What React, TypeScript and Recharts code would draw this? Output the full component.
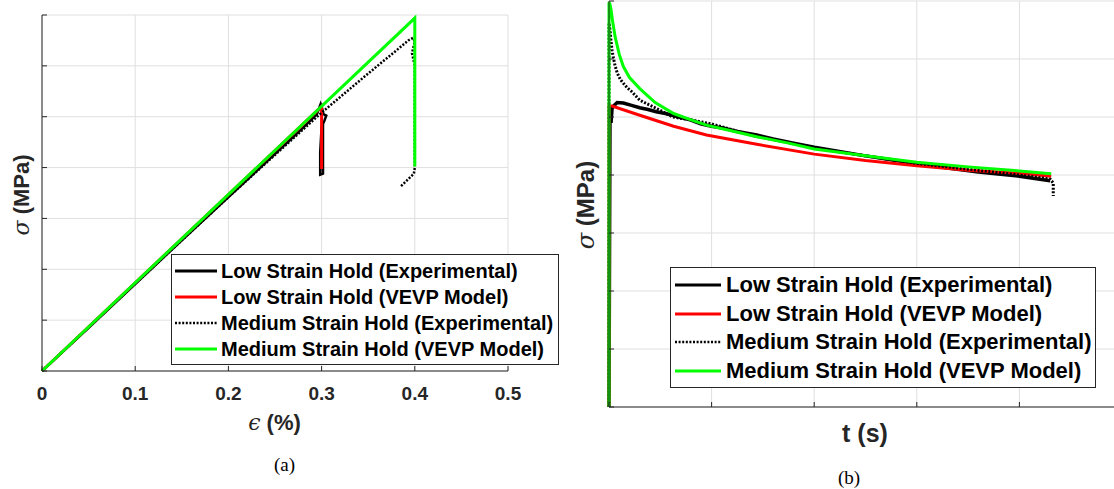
import React from 'react';
import { LineChart, Line, XAxis, YAxis, CartesianGrid, Legend } from 'recharts';

// (a) stress vs strain
const strainTicks = [0, 0.1, 0.2, 0.3, 0.4, 0.5];
const stressTicks = [0, 1, 2, 3, 4, 5, 6, 7];

const lowExpStrain = [0, 0.05, 0.1, 0.15, 0.2, 0.25, 0.28, 0.295, 0.299, 0.3, 0.302, 0.305, 0.303, 0.3, 0.2985, 0.2985, 0.3015, 0.3015];
const lowExpStress = [0, 0.85, 1.71, 2.57, 3.42, 4.27, 4.78, 5.05, 5.25, 5.2, 5.05, 5.02, 4.92, 4.8, 4.3, 3.86, 3.88, 4.9];

const lowModelStrain = [0, 0.3, 0.3];
const lowModelStress = [0, 5.2, 3.97];

const medExpStrain = [0, 0.1, 0.2, 0.3, 0.35, 0.38, 0.393, 0.398, 0.4, 0.397, 0.4, 0.4, 0.399, 0.385];
const medExpStress = [0, 1.72, 3.42, 5.08, 5.85, 6.3, 6.5, 6.55, 6.48, 6.25, 6.0, 4.0, 3.88, 3.63];

const medModelStrain = [0, 0.4, 0.4];
const medModelStress = [0, 6.94, 4.02];

// (b) stress vs time
const timeTicks = [0, 1, 2, 3, 4, 5];

const lowExpTime = [0, 0.01, 0.02, 0.03, 0.05, 0.08, 0.14, 0.22, 0.3, 0.38, 0.46, 0.55, 0.62, 0.7, 0.79, 0.9, 1.0, 1.11, 1.25, 1.44, 1.6, 1.8, 2.0, 2.2, 2.5, 2.8, 3.0, 3.3, 3.6, 4.0, 4.15, 4.3];
const lowExpRelax = [0, 5.2, 4.9, 5.15, 5.2, 5.25, 5.24, 5.2, 5.16, 5.13, 5.09, 5.06, 5.03, 4.99, 4.95, 4.88, 4.84, 4.81, 4.75, 4.69, 4.62, 4.55, 4.48, 4.42, 4.33, 4.25, 4.2, 4.12, 4.05, 3.98, 3.94, 3.9];

const lowModelTime = [0, 0, 0.03, 0.3, 0.63, 0.95, 1.44, 2.0, 2.5, 3.0, 3.5, 4.0, 4.31];
const lowModelRelax = [0, 5.19, 5.19, 5.03, 4.84, 4.69, 4.53, 4.36, 4.25, 4.16, 4.08, 4.03, 3.98];

const medExpTime = [0, 0, 0.01, 0.02, 0.03, 0.04, 0.06, 0.08, 0.11, 0.14, 0.18, 0.22, 0.3, 0.46, 0.62, 0.8, 1.0, 1.4, 2.0, 2.5, 3.0, 3.5, 4.0, 4.3, 4.33, 4.33];
const medExpRelax = [0, 6.62, 6.5, 6.3, 6.15, 6.04, 5.88, 5.76, 5.65, 5.58, 5.5, 5.44, 5.29, 5.15, 5.0, 4.95, 4.88, 4.68, 4.47, 4.33, 4.2, 4.1, 4.0, 3.93, 3.86, 3.64];

const medModelTime = [0, 0, 0.01, 0.02, 0.035, 0.06, 0.1, 0.14, 0.2, 0.3, 0.45, 0.63, 0.8, 0.95, 1.2, 1.44, 1.75, 2.0, 2.5, 3.0, 3.5, 4.0, 4.31];
const medModelRelax = [0, 6.98, 6.94, 6.85, 6.65, 6.38, 6.08, 5.87, 5.68, 5.49, 5.25, 5.06, 4.95, 4.86, 4.76, 4.66, 4.55, 4.45, 4.33, 4.22, 4.14, 4.07, 4.02];

const seriesNames = [
    'Low Strain Hold (Experimental)',
    'Low Strain Hold (VEVP Model)',
    'Medium Strain Hold (Experimental)',
    'Medium Strain Hold (VEVP Model)',
];

const zip = (xs: number[], ys: number[]) => xs.map((x, i) => ({ x, y: ys[i] }));

const FONT = '"Liberation Sans", Arial, sans-serif';
const AXIS = '#262626';
const GRID = '#dfdfdf';

const STYLES = [
    { color: '#000000', dash: undefined as string | undefined },
    { color: '#ff0000', dash: undefined },
    { color: '#000000', dash: '2 1.6' },
    { color: '#00ff00', dash: undefined },
];

interface LegendBoxProps {
    fontSize: number;
    rowHeight: number;
    sample: number;
    width: number;
    padTop: number;
    padLeft: number;
    gap: number;
}

const LegendBox = ({ fontSize, rowHeight, sample, width, padTop, padLeft, gap }: LegendBoxProps) => (
    <div
        style={{
            boxSizing: 'border-box',
            width,
            border: `1px solid ${AXIS}`,
            background: '#fff',
            padding: `${padTop}px 0 2px ${padLeft}px`,
            fontFamily: FONT,
        }}
    >
        {seriesNames.map((name, i) => (
            <div key={name} style={{ display: 'flex', alignItems: 'center', height: rowHeight }}>
                <svg width={sample} height={6} style={{ display: 'block' }}>
                    <line
                        x1={0}
                        x2={sample}
                        y1={3}
                        y2={3}
                        stroke={STYLES[i].color}
                        strokeWidth={STYLES[i].dash ? 2.5 : 3}
                        strokeDasharray={STYLES[i].dash}
                    />
                </svg>
                <span
                    style={{
                        marginLeft: gap,
                        fontSize,
                        fontWeight: 'bold',
                        color: '#000',
                        whiteSpace: 'nowrap',
                        lineHeight: 1,
                    }}
                >
                    {name}
                </span>
            </div>
        ))}
    </div>
);

const StrainTick = (props: any) => {
    const { x, y, payload } = props;
    return (
        <text x={x} y={y} dy={13.5} textAnchor="middle" fill={AXIS} fontSize={19} fontWeight="bold" fontFamily={FONT}>
            {payload.value}
        </text>
    );
};

const StrainChart = () => (
    <LineChart width={560} height={489} margin={{ top: 15, right: 52, left: 0, bottom: 88 }}>
        <CartesianGrid stroke={GRID} />
        <XAxis
            dataKey="x"
            type="number"
            domain={[0, 0.5]}
            ticks={strainTicks}
            height={30}
            tickSize={-5}
            tickMargin={20}
            axisLine={{ stroke: AXIS }}
            tickLine={{ stroke: AXIS }}
            tick={<StrainTick />}
        />
        <YAxis
            type="number"
            domain={[0, 7]}
            ticks={stressTicks}
            width={42}
            tickSize={-5}
            tickFormatter={() => ''}
            axisLine={{ stroke: AXIS }}
            tickLine={{ stroke: AXIS }}
        />
        <Line data={zip(lowExpStrain, lowExpStress)} dataKey="y" type="linear" dot={false} stroke={STYLES[0].color} strokeWidth={2.5} isAnimationActive={false} />
        <Line data={zip(lowModelStrain, lowModelStress)} dataKey="y" type="linear" dot={false} stroke={STYLES[1].color} strokeWidth={3} isAnimationActive={false} />
        <Line data={zip(medExpStrain, medExpStress)} dataKey="y" type="linear" dot={false} stroke={STYLES[2].color} strokeWidth={2.5} strokeDasharray={STYLES[2].dash} isAnimationActive={false} />
        <Line data={zip(medModelStrain, medModelStress)} dataKey="y" type="linear" dot={false} stroke={STYLES[3].color} strokeWidth={3} isAnimationActive={false} />
        <Legend
            layout="vertical"
            align="center"
            verticalAlign="middle"
            wrapperStyle={{ left: 171, top: 254, width: 'auto', height: 'auto' }}
            content={() => (
                <LegendBox fontSize={20} rowHeight={26.1} sample={42} width={388} padTop={2.5} padLeft={3} gap={4} />
            )}
        />
    </LineChart>
);

const RelaxChart = () => (
    <LineChart width={562} height={489} margin={{ top: 1, right: 0, left: 0, bottom: 52 }}>
        <CartesianGrid stroke={GRID} />
        <XAxis
            dataKey="x"
            type="number"
            domain={[0, 5]}
            ticks={timeTicks}
            height={30}
            tickSize={-5}
            tickFormatter={() => ''}
            axisLine={{ stroke: AXIS }}
            tickLine={{ stroke: AXIS }}
        />
        <YAxis
            type="number"
            domain={[0, 7]}
            ticks={stressTicks}
            width={49}
            tickSize={-5}
            tickFormatter={() => ''}
            axisLine={{ stroke: AXIS }}
            tickLine={{ stroke: AXIS }}
        />
        <Line data={zip(lowExpTime, lowExpRelax)} dataKey="y" type="linear" dot={false} stroke={STYLES[0].color} strokeWidth={3.5} isAnimationActive={false} />
        <Line data={zip(lowModelTime, lowModelRelax)} dataKey="y" type="linear" dot={false} stroke={STYLES[1].color} strokeWidth={3} isAnimationActive={false} />
        <Line data={zip(medExpTime, medExpRelax)} dataKey="y" type="linear" dot={false} stroke={STYLES[2].color} strokeWidth={3} strokeDasharray={STYLES[2].dash} isAnimationActive={false} />
        <Line data={zip(medModelTime, medModelRelax)} dataKey="y" type="linear" dot={false} stroke={STYLES[3].color} strokeWidth={3} isAnimationActive={false} />
        <Legend
            layout="vertical"
            align="center"
            verticalAlign="middle"
            wrapperStyle={{ left: 110, top: 267, width: 'auto', height: 'auto' }}
            content={() => (
                <LegendBox fontSize={22} rowHeight={28.7} sample={46} width={426} padTop={2.5} padLeft={4} gap={5} />
            )}
        />
    </LineChart>
);

const centered = (left: number, top: number, extra: React.CSSProperties = {}): React.CSSProperties => ({
    position: 'absolute',
    left,
    top,
    transform: 'translate(-50%, -50%)',
    whiteSpace: 'nowrap',
    lineHeight: 1,
    ...extra,
});

const greek: React.CSSProperties = {
    fontFamily: '"DejaVu Serif", serif',
    fontStyle: 'italic',
    fontWeight: 'normal',
};

export default function App() {
    return (
        <div
            style={{
                position: 'fixed',
                left: 0,
                top: 0,
                width: 1114,
                height: 489,
                overflow: 'hidden',
                background: '#fff',
                fontFamily: FONT,
            }}
        >
            <div style={{ position: 'absolute', left: 0, top: 0 }}>
                <StrainChart />
            </div>
            <div style={{ position: 'absolute', left: 560, top: 0 }}>
                <RelaxChart />
            </div>

            <div style={centered(21.5, 195, { transform: 'translate(-50%, -50%) rotate(-90deg)', fontSize: 22, fontWeight: 'bold', color: AXIS })}>
                <span style={greek}>σ</span> (MPa)
            </div>
            <div style={centered(274.5, 423, { fontSize: 22, fontWeight: 'bold', color: AXIS })}>
                <span style={greek}>ϵ</span> (%)
            </div>
            <div style={centered(284.5, 464, { fontSize: 19, fontFamily: '"Liberation Serif", serif', color: '#000' })}>(a)</div>

            <div style={centered(586, 205, { transform: 'translate(-50%, -50%) rotate(-90deg)', fontSize: 24, fontWeight: 'bold', color: AXIS })}>
                <span style={greek}>σ</span> (MPa)
            </div>
            <div style={centered(865, 433, { fontSize: 25, fontWeight: 'bold', color: AXIS })}>t (s)</div>
            <div style={centered(849, 477, { fontSize: 19, fontFamily: '"Liberation Serif", serif', color: '#000' })}>(b)</div>
        </div>
    );
}
